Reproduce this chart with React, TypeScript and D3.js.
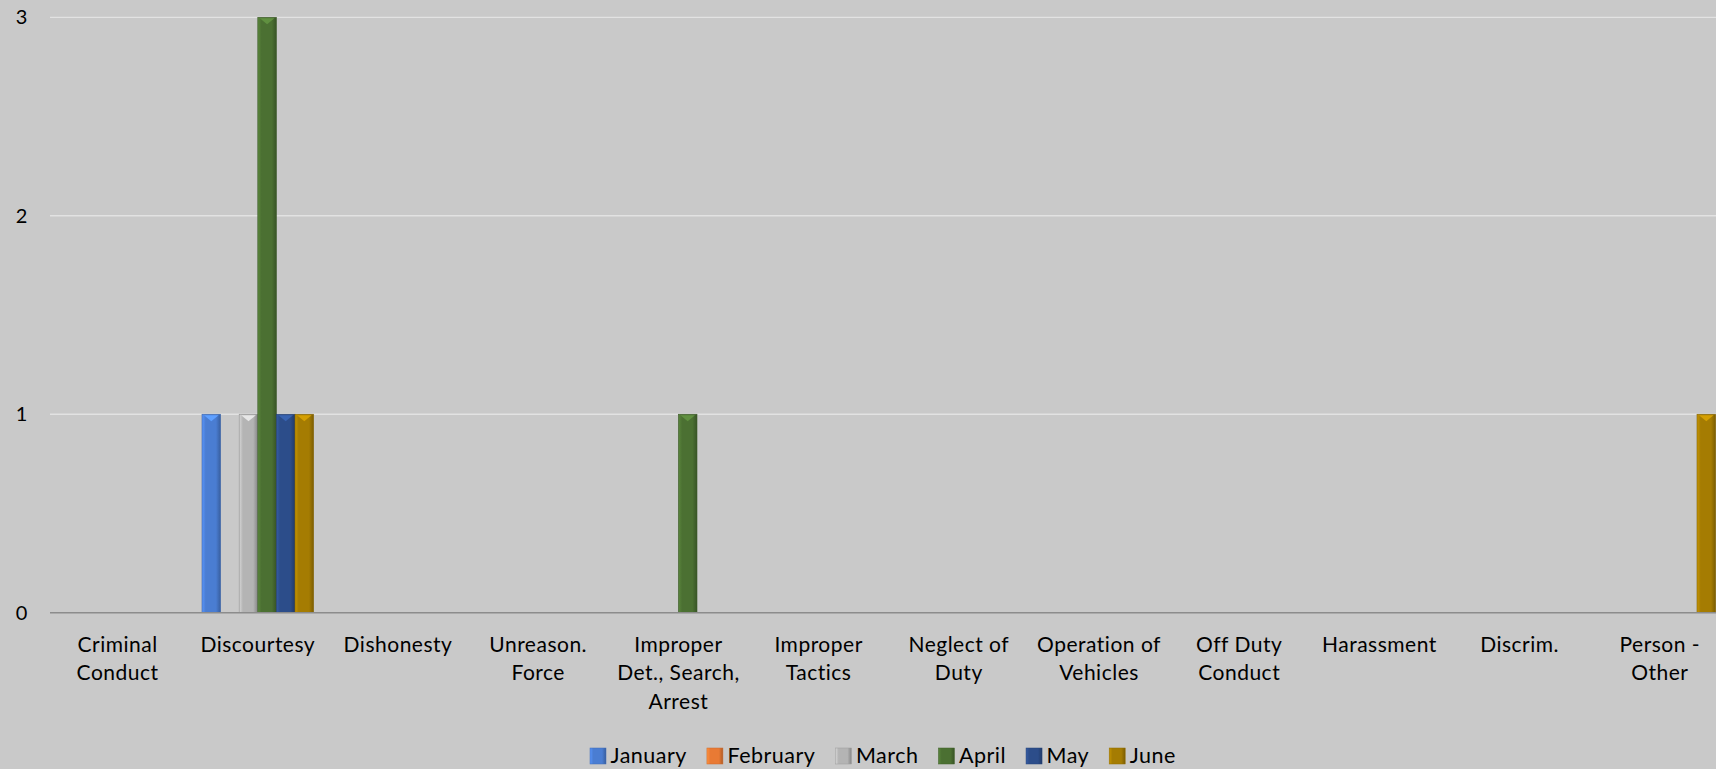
import React from "react";
import * as d3 from "d3";

const categories: string[][] = [
  ["Criminal", "Conduct"],
  ["Discourtesy"],
  ["Dishonesty"],
  ["Unreason.", "Force"],
  ["Improper", "Det., Search,", "Arrest"],
  ["Improper", "Tactics"],
  ["Neglect of", "Duty"],
  ["Operation of", "Vehicles"],
  ["Off Duty", "Conduct"],
  ["Harassment"],
  ["Discrim."],
  ["Person -", "Other"],
];
const seriesNames = ["January", "February", "March", "April", "May", "June"];
const january = [0, 1, 0, 0, 0, 0, 0, 0, 0, 0, 0, 0];
const february = [0, 0, 0, 0, 0, 0, 0, 0, 0, 0, 0, 0];
const march = [0, 1, 0, 0, 0, 0, 0, 0, 0, 0, 0, 0];
const april = [0, 3, 0, 0, 1, 0, 0, 0, 0, 0, 0, 0];
const may = [0, 1, 0, 0, 0, 0, 0, 0, 0, 0, 0, 0];
const june = [0, 1, 0, 0, 0, 0, 0, 0, 0, 0, 0, 1];
const seriesValues = [january, february, march, april, may, june];
const seriesColors = ["#4a7dd2", "#e97a34", "#b4b4b4", "#4b7032", "#2c4d8a", "#a57c02"];
const yTicks = [0, 1, 2, 3];

const W = 1716;
const H = 769;
const FONT = "Lato, 'Open Sans', sans-serif";

function measure(text: string, size: number, spacing: number) {
  const c = document.createElement("canvas").getContext("2d");
  if (!c) return text.length * size * 0.5;
  c.font = `${size}px Lato`;
  return c.measureText(text).width + spacing * text.length;
}

export default function App() {
  const x0 = 47.5;
  const cw = 140.2;
  const x = d3
    .scaleBand<number>()
    .domain(d3.range(categories.length))
    .range([x0, x0 + cw * categories.length])
    .paddingInner(0)
    .paddingOuter(0);
  const gap = 28.6;
  const xs = d3
    .scaleBand<number>()
    .domain(d3.range(seriesNames.length))
    .range([gap / 2, cw - gap / 2]);
  const y = d3.scaleLinear().domain([0, 3]).range([612.7, 17.3]);
  const bw = xs.bandwidth();

  // legend layout
  const legendSize = 21.5;
  const legendSpacing = 0.5;
  const sq = 16;
  let lx = 590;
  const legendItems = seriesNames.map((name, i) => {
    const item = { name, i, x: lx };
    lx += sq + 4.5 + measure(name, legendSize, legendSpacing) + 20;
    return item;
  });

  return (
    <svg
      width={W}
      height={H}
      style={{ position: "absolute", left: 0, top: 0, display: "block" }}
      fontFamily={FONT}
    >
      <defs>
        {seriesColors.map((c, i) => {
          const base = d3.color(c)!;
          return (
            <linearGradient key={i} id={`g${i}`} x1="0" x2="1" y1="0" y2="0">
              <stop offset="0" stopColor={base.brighter(0.5).formatHex()} />
              <stop offset="0.2" stopColor={c} />
              <stop offset="0.75" stopColor={c} />
              <stop offset="1" stopColor={base.darker(0.8).formatHex()} />
            </linearGradient>
          );
        })}
      </defs>
      <rect x={0} y={0} width={W} height={H} fill="#c9c9c9" />
      {yTicks.slice(1).map((t) => (
        <line key={t} x1={50} x2={W} y1={y(t)} y2={y(t)} stroke="#e2e2e2" strokeWidth={1.3} />
      ))}
      {yTicks.map((t) => (
        <text key={t} x={21.5} y={y(t)} dy="0.35em" textAnchor="middle" fontSize={20} fill="#000">
          {t}
        </text>
      ))}
      {seriesValues.map((vals, si) =>
        vals.map((v, ci) => {
          if (v <= 0) return null;
          const bx = x(ci)! + xs(si)!;
          const top = y(v);
          const h = y(0) - top;
          const light = d3.color(seriesColors[si])!.brighter(0.7).formatHex();
          return (
            <g key={`${si}-${ci}`}>
              <rect x={bx} y={top} width={bw} height={h} fill={`url(#g${si})`} stroke={d3.color(seriesColors[si])!.darker(0.6).formatHex()} strokeWidth={0.6} />
              <path d={`M${bx + 2},${top + 1} L${bx + bw - 2},${top + 1} L${bx + bw / 2},${top + 7} Z`} fill={light} />
            </g>
          );
        })
      )}
      <line x1={50} x2={W} y1={y(0)} y2={y(0)} stroke="#8c8c8c" strokeWidth={1.5} />
      {categories.map((lines, ci) => (
        <text key={ci} x={x(ci)! + cw / 2} textAnchor="middle" fontSize={21} letterSpacing={0.5} fill="#000">
          {lines.map((l, li) => (
            <tspan key={li} x={x(ci)! + cw / 2} y={651.5 + li * 28.5}>
              {l}
            </tspan>
          ))}
        </text>
      ))}
      {legendItems.map((it) => {
        const base = d3.color(seriesColors[it.i])!;
        return (
          <g key={it.name}>
            <rect x={it.x} y={748} width={sq} height={sq} fill={`url(#g${it.i})`} stroke={base.darker(0.4).formatHex()} strokeWidth={0.5} />
            <text x={it.x + sq + 4.5} y={763} fontSize={legendSize} letterSpacing={legendSpacing} fill="#000">
              {it.name}
            </text>
          </g>
        );
      })}
    </svg>
  );
}
